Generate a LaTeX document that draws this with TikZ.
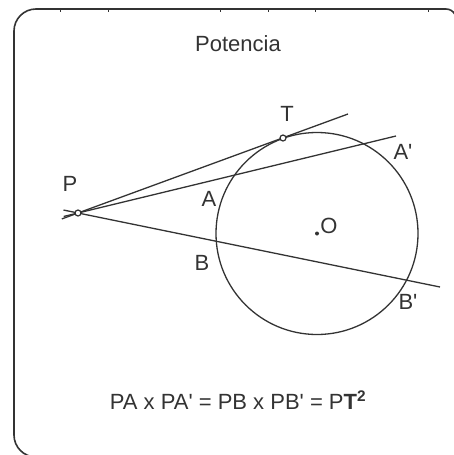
\documentclass[tikz,border=0pt]{standalone}
\usepackage{fontspec}
\setmainfont{Liberation Sans}[Ligatures=TeXOff]
\usetikzlibrary{calc}
\definecolor{ink}{HTML}{333333}
\begin{document}
\begin{tikzpicture}[x=1pt,y=-1pt,
  geo/.style={draw=ink,line width=1.3pt},
  lbl/.style={text=ink,font=\fontsize{22}{24}\selectfont,inner sep=0pt},
  opendot/.style={circle,draw=ink,fill=white,line width=1.2pt,inner sep=0pt,minimum size=6pt},
  filldot/.style={circle,fill=ink,inner sep=0pt,minimum size=4pt}]
\useasboundingbox (0,0) rectangle (454,455);
% frame
\draw[ink,line width=1.6pt] (36,457) arc[start angle=90,end angle=180,radius=22] -- (14,31) arc[start angle=180,end angle=270,radius=22] -- (446,9) arc[start angle=270,end angle=330,radius=10];
\foreach \t in {60,108,220,268,315,428} \draw[ink,line width=1pt] (\t,9) -- (\t,11.5);
% geometry
\coordinate (O) at (317,233.5);
\coordinate (P) at (78,213);
\coordinate (T) at (283,138);
\coordinate (Tend) at (348,114);
\coordinate (Aend) at (396,136);
\coordinate (Bend) at (440,287);
\draw[geo] (O) circle[radius=101];
\draw[geo] ($(P)!-0.06!(Tend)$) -- (Tend);
\draw[geo] ($(P)!-0.045!(Aend)$) -- (Aend);
\draw[geo] ($(P)!-0.04!(Bend)$) -- (Bend);
\node[opendot] (Pn) at (P) {};
\node[opendot] (Tn) at (T) {};
\node[filldot] (On) at (O) {};
% labels
\node[lbl] (tit) at (238,44) {Potencia};
\node[lbl] (lP) at (70,184) {P};
\node[lbl] (lT) at (287,114) {T};
\node[lbl] (lAp) at (403,152) {A'};
\node[lbl] (lA) at (209,199) {A};
\node[lbl] (lO) at (329,226) {O};
\node[lbl] (lB) at (202,263) {B};
\node[lbl] (lBp) at (408,302) {B'};
\node[lbl] (form) at (238,400) {PA x PA' = PB x PB' = P\textbf{T}\textsuperscript{\textbf{2}}};
\end{tikzpicture}
\end{document}
